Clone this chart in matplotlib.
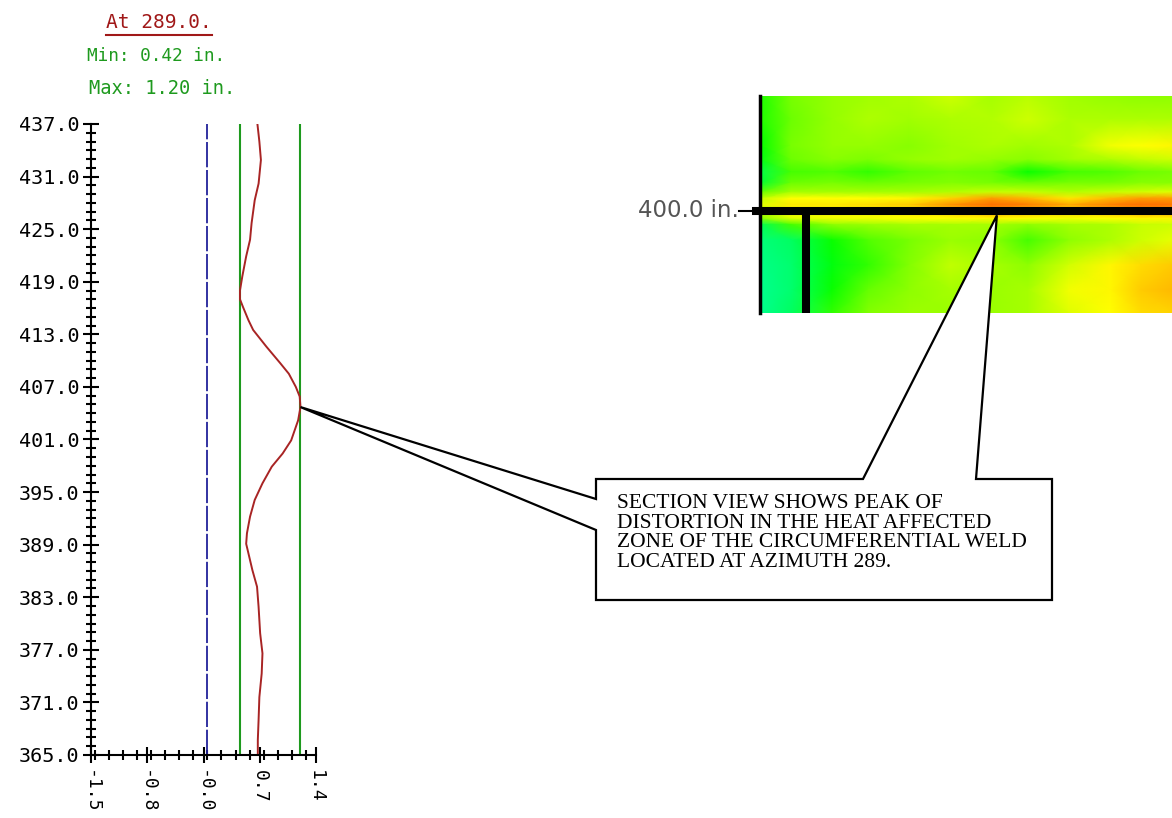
import numpy as np
import matplotlib.pyplot as plt
from matplotlib.colors import LinearSegmentedColormap
from matplotlib.patches import Polygon
from matplotlib.lines import Line2D
from matplotlib.ticker import MultipleLocator, FixedLocator
from matplotlib.transforms import blended_transform_factory

# section profile at azimuth 289 (axial position in inches, distortion in inches)
axial_pos = [437.0, 435.0, 432.9, 430.2, 428.3, 425.7, 423.8, 421.9, 419.6, 418.0,
             417.0, 416.1, 414.6, 413.5, 411.6, 409.7, 408.5, 407.0, 405.9, 404.7,
             403.2, 400.9, 399.4, 397.9, 396.0, 394.1, 392.2, 390.3, 389.1, 387.6,
             386.1, 384.2, 381.9, 378.9, 376.6, 374.3, 371.6, 369.0, 366.7, 365.0]
distortion = [0.645, 0.67, 0.69, 0.66, 0.61, 0.57, 0.55, 0.50, 0.45, 0.42,
              0.42, 0.46, 0.53, 0.59, 0.76, 0.94, 1.05, 1.14, 1.19, 1.20,
              1.17, 1.08, 0.97, 0.83, 0.71, 0.61, 0.55, 0.51, 0.50, 0.54,
              0.58, 0.64, 0.66, 0.68, 0.71, 0.70, 0.67, 0.66, 0.65, 0.65]
azimuth = 289.0
section_min = 0.42
section_max = 1.20

y_ticks = [365, 371, 377, 383, 389, 395, 401, 407, 413, 419, 425, 431, 437]
x_ticks = [-1.5, -0.775, -0.05, 0.675, 1.4]
x_tick_labels = ['-1.5', '-0.8', '-0.0', '0.7', '1.4']

# unwrapped pipe surface map around the weld (relative distortion level 0..1)
heat_azimuth = [280, 286, 294, 301, 309, 317, 325, 332, 340, 348, 354, 360]
heat_depth = [407.4, 405.9, 404.2, 403.3, 402.5, 401.8, 401.2, 400.8,
              400.4, 400.0, 399.5, 399.1, 398.1, 396.5, 394.9, 393.4]
heat_values = [
    [0.28, 0.38, 0.43, 0.45, 0.47, 0.52, 0.46, 0.49, 0.45, 0.43, 0.42, 0.42],
    [0.28, 0.36, 0.43, 0.47, 0.45, 0.47, 0.48, 0.52, 0.47, 0.47, 0.47, 0.47],
    [0.25, 0.38, 0.43, 0.43, 0.41, 0.45, 0.47, 0.45, 0.47, 0.58, 0.60, 0.62],
    [0.22, 0.36, 0.41, 0.39, 0.43, 0.45, 0.43, 0.41, 0.45, 0.47, 0.50, 0.52],
    [0.14, 0.32, 0.33, 0.30, 0.34, 0.37, 0.35, 0.26, 0.32, 0.33, 0.36, 0.38],
    [0.17, 0.36, 0.38, 0.36, 0.38, 0.40, 0.38, 0.36, 0.38, 0.38, 0.41, 0.41],
    [0.35, 0.46, 0.46, 0.46, 0.46, 0.48, 0.51, 0.51, 0.48, 0.51, 0.53, 0.55],
    [0.50, 0.60, 0.60, 0.60, 0.62, 0.70, 0.80, 0.75, 0.65, 0.75, 0.80, 0.80],
    [0.55, 0.65, 0.65, 0.68, 0.72, 0.82, 0.90, 0.85, 0.78, 0.85, 0.90, 0.88],
    [0.50, 0.60, 0.62, 0.62, 0.65, 0.72, 0.80, 0.75, 0.70, 0.75, 0.80, 0.80],
    [0.40, 0.55, 0.58, 0.58, 0.60, 0.60, 0.62, 0.60, 0.58, 0.60, 0.62, 0.62],
    [0.12, 0.32, 0.42, 0.44, 0.46, 0.46, 0.46, 0.42, 0.46, 0.47, 0.51, 0.52],
    [0.06, 0.10, 0.26, 0.33, 0.38, 0.44, 0.42, 0.32, 0.42, 0.47, 0.52, 0.56],
    [0.04, 0.08, 0.23, 0.30, 0.40, 0.50, 0.46, 0.42, 0.53, 0.62, 0.68, 0.72],
    [0.03, 0.08, 0.26, 0.35, 0.42, 0.46, 0.44, 0.46, 0.58, 0.62, 0.72, 0.75],
    [0.03, 0.10, 0.30, 0.40, 0.44, 0.44, 0.44, 0.46, 0.55, 0.60, 0.68, 0.70],
]
weld_depth = 400.0
callout_text = ("SECTION VIEW SHOWS PEAK OF\n"
                "DISTORTION IN THE HEAT AFFECTED\n"
                "ZONE OF THE CIRCUMFERENTIAL WELD\n"
                "LOCATED AT AZIMUTH 289.")

W, H = 1172, 818
fig = plt.figure(figsize=(W / 100, H / 100), dpi=100)

# ---- section profile ----
ax = fig.add_axes([91 / W, 1 - 755 / H, 225 / W, 631 / H])
ax.axvline(0, color='#22229a', lw=1.3, ls=(0, (14, 1.5)))
ax.axvline(section_min, color='#1e9a1e', lw=1.5)
ax.axvline(section_max, color='#1e9a1e', lw=1.5)
ax.plot(distortion, axial_pos, color='#a82424', lw=1.4)
ax.set_xlim(-1.5, 1.4)
ax.set_ylim(365, 437)
for s in ['top', 'right']:
    ax.spines[s].set_visible(False)
for s in ['left', 'bottom']:
    ax.spines[s].set_linewidth(1.5)
ax.yaxis.set_major_locator(FixedLocator(y_ticks))
ax.set_yticklabels([f'{v:.1f}' for v in y_ticks])
ax.yaxis.set_minor_locator(MultipleLocator(1))
ax.xaxis.set_major_locator(FixedLocator(x_ticks))
ax.set_xticklabels(x_tick_labels, rotation=270)
ax.xaxis.set_minor_locator(MultipleLocator(0.18125))
ax.tick_params(which='major', direction='inout', length=11, width=1.5, pad=3)
ax.tick_params(axis='x', which='major', pad=5)
ax.tick_params(which='minor', direction='inout', length=7, width=1.5)
for lab in ax.get_yticklabels():
    lab.set_family('DejaVu Sans Mono')
    lab.set_fontsize(14.5)
for lab in ax.get_xticklabels():
    lab.set_family('DejaVu Sans Mono')
    lab.set_fontsize(13)

title = fig.text(159 / W, 1 - 23 / H, f'At {azimuth:.1f}.', ha='center', va='center',
                 color='#a01818', family='DejaVu Sans Mono', fontsize=14)
fig.text(156 / W, 1 - 56 / H, f'Min: {section_min:.2f} in.', ha='center', va='center',
         color='#1e9a1e', family='DejaVu Sans Mono', fontsize=12.8)
fig.text(162 / W, 1 - 88 / H, f'Max: {section_max:.2f} in.', ha='center', va='center',
         color='#1e9a1e', family='DejaVu Sans Mono', fontsize=13.5)

# ---- surface map ----
cmap = LinearSegmentedColormap.from_list('dist', [
    (0.00, '#00ffa0'), (0.15, '#00ff40'), (0.25, '#00ff00'), (0.35, '#66ff00'),
    (0.45, '#a0ff00'), (0.52, '#ccff00'), (0.60, '#ffff00'), (0.72, '#ffcc00'),
    (0.85, '#ff8000'), (1.00, '#ff5000')])
hax = fig.add_axes([760 / W, 1 - 313 / H, 412 / W, 217 / H])
hax.pcolormesh(heat_azimuth, heat_depth, np.array(heat_values), cmap=cmap,
               vmin=0, vmax=1, shading='gouraud')
hax.set_xlim(heat_azimuth[0], heat_azimuth[-1])
hax.set_ylim(heat_depth[-1], heat_depth[0])
for s in ['top', 'right', 'bottom']:
    hax.spines[s].set_visible(False)
hax.spines['left'].set_linewidth(2.5)
hax.set_xticks([])
hax.set_yticks([])
hax.axhline(weld_depth, xmin=-0.01, xmax=1, color='k', lw=5.8, clip_on=False)
hax.axhline(weld_depth, xmin=-0.05, xmax=0, color='k', lw=1.5, clip_on=False)
hax.plot([azimuth, azimuth], [heat_depth[-1], weld_depth], color='k', lw=5.8,
         solid_capstyle='butt')
trans = blended_transform_factory(hax.transAxes, hax.transData)
hax.text(-0.052, weld_depth, f'{weld_depth:.1f} in.', transform=trans, ha='right',
         va='center', color='#555555', fontsize=16.5)

# ---- callout ----
fig.canvas.draw()
bb = title.get_window_extent()
inv = fig.transFigure.inverted()
p0 = inv.transform((bb.x0, bb.y0 - 2))
p1 = inv.transform((bb.x1, bb.y0 - 2))
fig.add_artist(Line2D([p0[0], p1[0]], [p0[1], p1[1]], color='#a01818', lw=1.5))

peak = int(np.argmax(distortion))
apex_left = inv.transform(ax.transData.transform((distortion[peak], axial_pos[peak])))
apex_top = inv.transform(hax.transData.transform((326, 399.7)))


def px(x, y):
    return (x / W, 1 - y / H)


pts = [px(596, 479), px(863, 479), tuple(apex_top), px(976, 479), px(1052, 479),
       px(1052, 600), px(596, 600), px(596, 530), tuple(apex_left), px(596, 499)]
fig.add_artist(Polygon(pts, closed=True, facecolor='white', edgecolor='black',
                       lw=1.6, joinstyle='miter', zorder=5))
fig.text(617 / W, 1 - 494 / H, callout_text, ha='left', va='top',
         family='Liberation Serif', fontsize=15.5, linespacing=1.05, zorder=6)

fig.savefig('out.png', dpi=100)
